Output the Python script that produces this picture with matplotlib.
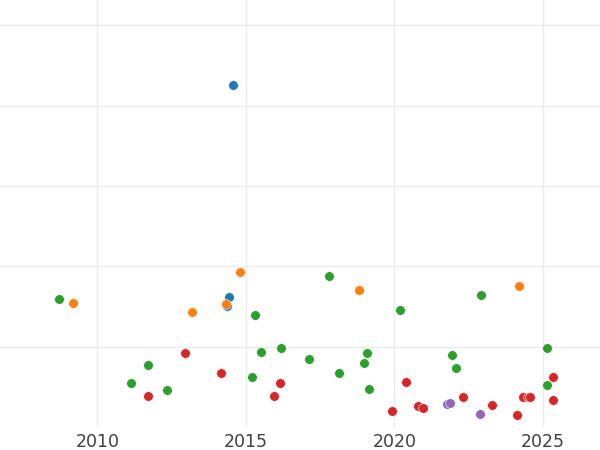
import matplotlib
matplotlib.use("Agg")
import matplotlib.pyplot as plt

# Data (x = year, y = value in grid units)
blue_x = [2014.58, 2014.44, 2014.38]
blue_y = [4.25, 1.62, 1.51]

orange_x = [2009.19, 2013.18, 2014.33, 2014.79, 2018.82, 2024.20]
orange_y = [1.54, 1.43, 1.53, 1.93, 1.71, 1.75]

green_x = [2008.72, 2011.71, 2011.14, 2012.36, 2015.31, 2015.20, 2015.50, 2016.19,
           2017.12, 2017.80, 2018.15, 2018.99, 2019.08, 2019.16, 2020.19, 2021.95,
           2022.08, 2022.92, 2025.14, 2025.14]
green_y = [1.60, 0.77, 0.55, 0.46, 1.40, 0.63, 0.94, 0.99,
           0.85, 1.88, 0.68, 0.80, 0.92, 0.48, 1.46, 0.90,
           0.73, 1.65, 0.99, 0.52]

red_x = [2011.71, 2012.96, 2014.15, 2015.96, 2016.15, 2019.93, 2020.40, 2020.81,
         2020.98, 2022.32, 2023.30, 2024.14, 2024.34, 2024.49, 2024.57, 2025.35, 2025.35]
red_y = [0.39, 0.92, 0.68, 0.39, 0.55, 0.20, 0.56, 0.26,
         0.24, 0.38, 0.27, 0.15, 0.37, 0.38, 0.38, 0.62, 0.34]

purple_x = [2021.79, 2021.88, 2022.88]
purple_y = [0.286, 0.298, 0.16]

x_ticks = [2010, 2015, 2020, 2025]
y_ticks = [1, 2, 3, 4, 5]

series = [
    (blue_x, blue_y, "#1f77b4"),
    (orange_x, orange_y, "#ff7f0e"),
    (green_x, green_y, "#2ca02c"),
    (red_x, red_y, "#d62728"),
    (purple_x, purple_y, "#9467bd"),
]

fig = plt.figure(figsize=(6, 4.5), dpi=100)
ax = fig.add_axes([0, 0.0507, 1, 0.9493])

for xs, ys, c in series:
    ax.scatter(xs, ys, s=48, color=c, edgecolors="white", linewidths=0.4, zorder=3)

ax.set_xlim(2006.724, 2026.926)
ax.set_ylim(0, 5.313)
ax.set_xticks(x_ticks)
ax.set_xticklabels([str(t) for t in x_ticks])
ax.set_yticks(y_ticks)
ax.set_yticklabels([])
ax.grid(True, color="#ebebeb", linewidth=1.0)
ax.set_axisbelow(True)
for s in ax.spines.values():
    s.set_visible(False)
ax.tick_params(axis="both", length=0, pad=4, labelsize=12.5, labelcolor="#404040")

fig.savefig("out.png", dpi=100)
